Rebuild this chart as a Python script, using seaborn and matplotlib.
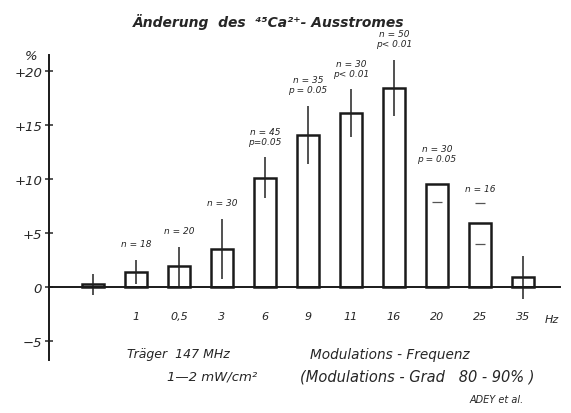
import numpy as np
import pandas as pd
import seaborn as sns
import matplotlib.pyplot as plt

# Werte
freq = ['0', '1', '0,5', '3', '6', '9', '11', '16', '20', '25', '35']
freq_labels = ['', '1', '0,5', '3', '6', '9', '11', '16', '20', '25', '35']
change = [0.25, 1.4, 1.9, 3.5, 10.1, 14.1, 16.1, 18.4, 9.5, 5.9, 0.9]
err = [1.0, 1.1, 1.8, 2.8, 1.9, 2.7, 2.2, 2.6, 1.65, 1.9, 2.0]
n_text = ['', 'n = 18', 'n = 20', 'n = 30', 'n = 45\np=0.05', 'n = 35\np = 0.05',
          'n = 30\np< 0.01', 'n = 50\np< 0.01', 'n = 30\np = 0.05', 'n = 16', '']
# bei 20 und 25 Hz nur kurze Striche statt Fehlerbalken
cap_low = [False] * 8 + [True, True, False]
cap_up = [False] * 9 + [True, False]

df = pd.DataFrame({'freq': freq, 'change': change, 'err': err})

sns.set_style('white')
plt.rcParams['font.family'] = ['DejaVu Sans']

fig = plt.figure(figsize=(5.71, 4.14), dpi=100)
ax = fig.add_axes([0.0858, 0.127, 0.895, 0.738])

sns.barplot(data=df, x='freq', y='change', order=freq, color='white',
            edgecolor='#1a1a1a', linewidth=1.8, width=0.5, ax=ax)

pos = np.arange(len(freq))
full = ~(np.array(cap_low) | np.array(cap_up))
ax.errorbar(pos[full], df['change'][full], yerr=df['err'][full],
            fmt='none', ecolor='#222222', elinewidth=1.1, capsize=0)
lo = np.array(cap_low)
up = np.array(cap_up)
ax.plot(pos[lo], (df['change'] - df['err'])[lo], ls='none', marker='_',
        ms=7, mew=0.9, color='#555555')
ax.plot(pos[up], (df['change'] + df['err'])[up], ls='none', marker='_',
        ms=7, mew=0.9, color='#555555')

# n / p Angaben ueber den Balken
for i, t in enumerate(n_text):
    if not t:
        continue
    top = change[i] + (err[i] if (full[i] or cap_up[i]) else 0)
    off = 0.9 if cap_up[i] else (2.0 if cap_low[i] else 1.1)
    ax.text(i, top + off, t, ha='center', va='bottom', fontsize=6.5,
            style='italic', linespacing=1.15)

ax.set_xlim(-1.02, 10.86)
ax.set_ylim(-6.8, 21.5)

sns.despine(ax=ax, top=True, right=True)
for s in ['left', 'bottom']:
    ax.spines[s].set_linewidth(1.4)
    ax.spines[s].set_color('#1a1a1a')
ax.spines['bottom'].set_position(('data', 0))

ax.set_yticks([-5, 0, 5, 10, 15, 20])
ax.set_yticklabels(['\u22125', '0', '+5', '+10', '+15', '+20'],
                   fontsize=9.5, style='italic')
ax.tick_params(axis='y', direction='inout', length=6, width=1.1, left=True, pad=2)
ax.set_xticks(pos)
ax.set_xticklabels(freq_labels, fontsize=8, style='italic')
ax.tick_params(axis='x', length=0, pad=17)
ax.set_xlabel('')
ax.set_ylabel('')

ax.text(-1.3, 21.4, '%', ha='right', va='center', fontsize=9.5, style='italic')
ax.text(10.68, -3.0, 'Hz', ha='center', va='center', fontsize=8, style='italic')

fig.text(0.471, 0.947, 'Änderung  des  ⁴⁵Ca²⁺- Ausstromes', ha='center',
         va='center', fontsize=10, style='italic', weight='bold')

fig.text(0.222, 0.143, 'Träger  147 MHz', fontsize=9, style='italic', va='center')
fig.text(0.292, 0.089, '1—2 mW/cm²', fontsize=9.5, style='italic', va='center')
fig.text(0.543, 0.143, 'Modulations - Frequenz', fontsize=9.8, style='italic',
         va='center')
fig.text(0.525, 0.089, '(Modulations - Grad   80 - 90% )', fontsize=10.5,
         style='italic', va='center')
fig.text(0.823, 0.034, 'ADEY et al.', fontsize=7, style='italic', va='center')

fig.savefig('out.png', dpi=100, facecolor='white')
